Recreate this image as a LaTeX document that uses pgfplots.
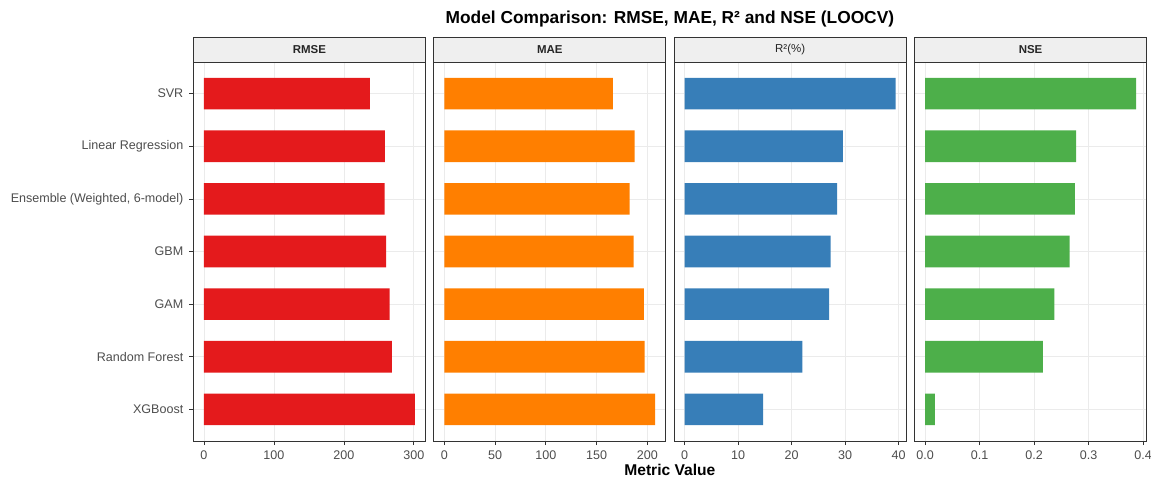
\documentclass[border=0pt]{standalone}
\usepackage{fontspec}
\setmainfont{Liberation Sans}
\usepackage{pgfplots}
\usepackage{pgfplotstable}
\pgfplotsset{compat=1.18}

\definecolor{rmsecol}{HTML}{E41A1C}
\definecolor{maecol}{HTML}{FF7F00}
\definecolor{rtwocol}{HTML}{377EB8}
\definecolor{nsecol}{HTML}{4DAF4A}
\definecolor{gray20}{HTML}{333333}
\definecolor{gray30}{HTML}{4D4D4D}
\definecolor{gray92}{HTML}{EBEBEB}
\definecolor{stripfill}{HTML}{EFEFEF}

% rows: 0 = XGBoost (bottom) ... 6 = SVR (top)
\pgfplotstableread{
idx rmse mae r2 nse
6 237.2 166.2 39.44 0.387
5 258.6 187.5 29.6 0.277
4 258.4 182.6 28.5 0.275
3 260.6 186.5 27.3 0.265
2 265.3 196.7 27.0 0.237
1 268.7 197.3 22.0 0.216
0 301.4 207.8 14.65 0.018
}\metrics

\pgfplotsset{
  panel/.style={
    scale only axis, width=174pt, height=284.25pt, anchor=south west,
    xbar, bar width=0.6, bar shift=0pt,
    ymin=-0.6, ymax=6.6, ytick={0,...,6},
    axis line style={draw=gray20, line width=0.6pt},
    grid=major, major grid style={draw=gray92, line width=0.5pt},
    tick style={draw=gray20, line width=0.5pt},
    tick align=outside, major tick length=3pt,
    xtick pos=bottom, ytick pos=left,
    ticklabel style={font=\fontsize{9.4}{11}\selectfont, text=gray30},
    /pgf/number format/assume math mode=true,
    xticklabel style={yshift=-1pt},
  },
  inner panel/.style={panel, yticklabels={}, ytick style={draw=none}},
}

\begin{document}
\begin{tikzpicture}
\path[use as bounding box] (0,0) rectangle (863.25pt,358.5pt);

% RMSE
\begin{axis}[panel, at={(145pt,27.75pt)},
  xmin=-15.07, xmax=316.47, xtick={0,100,200,300},
  yticklabels={XGBoost, Random Forest, GAM, GBM, {Ensemble (Weighted, 6-model)}, Linear Regression, SVR},
  yticklabel style={xshift=-1pt}]
\addplot[fill=rmsecol, draw=none] table[x=rmse, y=idx] {\metrics};
\end{axis}

% MAE
\begin{axis}[inner panel, at={(325.3pt,27.75pt)},
  xmin=-10.39, xmax=218.19, xtick={0,50,100,150,200}]
\addplot[fill=maecol, draw=none] table[x=mae, y=idx] {\metrics};
\end{axis}

% R^2 (%)
\begin{axis}[inner panel, at={(505.6pt,27.75pt)},
  xmin=-1.972, xmax=41.41, xtick={0,10,20,30,40}]
\addplot[fill=rtwocol, draw=none] table[x=r2, y=idx] {\metrics};
\end{axis}

% NSE
\begin{axis}[inner panel, at={(685.9pt,27.75pt)},
  xmin=-0.01935, xmax=0.40635, xtick={0,0.1,0.2,0.3,0.4},
  xticklabel style={/pgf/number format/.cd, fixed, fixed zerofill, precision=1}]
\addplot[fill=nsecol, draw=none] table[x=nse, y=idx] {\metrics};
\end{axis}

% facet strips
\foreach \x/\lab in {145/{\bfseries RMSE}, 325.3/{\bfseries MAE}, 505.6/{R²(\%)}, 685.9/{\bfseries NSE}} {
  \draw[draw=gray20, line width=0.6pt, fill=stripfill] (\x pt,312pt) rectangle ++(174pt,18.75pt);
  \node[text=black!85, font=\fontsize{8.6}{10}\selectfont] at (\x pt+87pt,321.4pt) {\lab};
}

\node[font=\fontsize{13}{15}\selectfont\bfseries] at (502.4pt,344.2pt) {Model Comparison: RMSE, MAE, R² and NSE (LOOCV)};
\node[font=\fontsize{11.7}{14}\selectfont\bfseries] at (502.4pt,6pt) {Metric Value};
\end{tikzpicture}
\end{document}
